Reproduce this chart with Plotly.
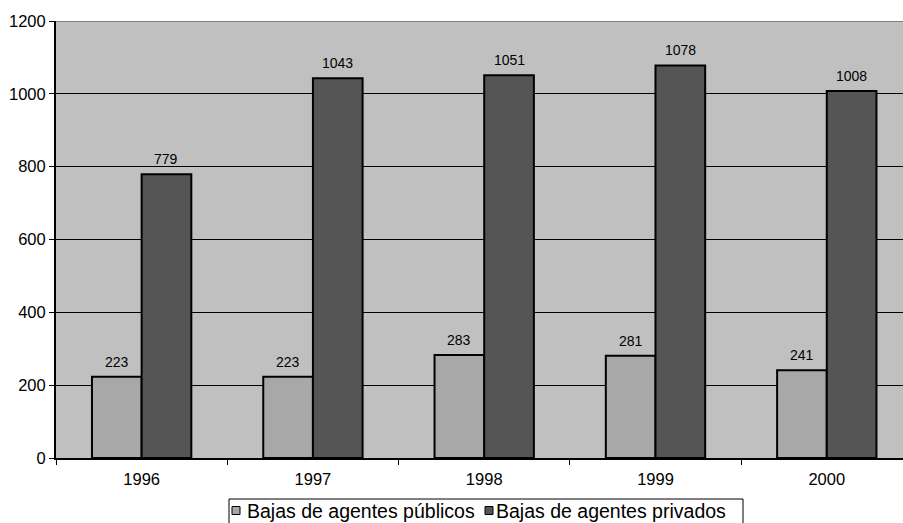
import plotly.graph_objects as go

years = ["1996", "1997", "1998", "1999", "2000"]
publicos = [223, 223, 283, 281, 241]
privados = [779, 1043, 1051, 1078, 1008]
series_names = ["Bajas de agentes públicos", "Bajas de agentes privados"]
y_ticks = [0, 200, 400, 600, 800, 1000, 1200]

W, H = 903, 523
L, R, T, B = 56, 0, 21, 65
pw, ph = W - L - R, H - T - B
X_END = 4.445
BARGAP = 0.42

def px_x(p):
    return (p - L) / pw

def px_y(p):
    return (H - B - p) / ph

FONT = "Arial, 'Liberation Sans', sans-serif"
LIGHT = "#A8A8A8"
DARK = "#555555"

fig = go.Figure()
for name, vals, col in [(series_names[0], publicos, LIGHT), (series_names[1], privados, DARK)]:
    fig.add_trace(go.Bar(
        x=years, y=vals, name=name,
        marker=dict(color=col, line=dict(color="black", width=2)),
        showlegend=False, hoverinfo="skip",
    ))

# data labels above each bar (category index positions on the x axis)
cat_px = pw / (X_END + 0.5)
bar_px = cat_px * (1 - BARGAP) / 2
for k, vals in enumerate([publicos, privados]):
    shift = (-0.5 + k) * bar_px
    for i, v in enumerate(vals):
        fig.add_annotation(x=i, y=v, xref="x", yref="y", text=str(v), showarrow=False,
                           xanchor="center", yanchor="bottom", xshift=shift, yshift=5,
                           font=dict(family=FONT, size=14, color="black"))

fig.update_layout(
    width=W, height=H,
    margin=dict(l=L, r=R, t=T, b=B, autoexpand=False),
    paper_bgcolor="white", plot_bgcolor="#C0C0C0",
    barmode="group", bargap=BARGAP, bargroupgap=0,
    font=dict(family=FONT, size=16, color="black"),
    xaxis=dict(
        type="category", range=[-0.5, X_END], automargin=False,
        showline=True, linecolor="black", linewidth=2,
        ticks="outside", tickson="boundaries", ticklen=5, tickcolor="black", tickwidth=1,
        showgrid=False, tickfont=dict(size=16.5), ticklabelstandoff=5,
    ),
    yaxis=dict(
        range=[0, 1200], tickvals=y_ticks, automargin=False,
        showline=True, linecolor="black", linewidth=2,
        ticks="outside", ticklen=5, tickcolor="black", tickwidth=1,
        showgrid=True, gridcolor="black", gridwidth=1,
        zeroline=False, tickfont=dict(size=16.5),
    ),
)

# gray top border of plot area
fig.add_shape(type="line", xref="paper", yref="y", x0=0, x1=1, y0=1200, y1=1200,
              line=dict(color="#808080", width=2))

# legend box
fig.add_shape(type="rect", xref="paper", yref="paper",
              x0=px_x(229), x1=px_x(743), y0=px_y(499), y1=px_y(526),
              line=dict(color="black", width=1), fillcolor="white", layer="above")
for sx, tx, col, name in [(232, 246, LIGHT, series_names[0]), (485, 495, DARK, series_names[1])]:
    fig.add_shape(type="rect", xref="paper", yref="paper",
                  x0=px_x(sx), x1=px_x(sx + 8), y0=px_y(506.5), y1=px_y(514.5),
                  line=dict(color="black", width=1), fillcolor=col, layer="above")
    fig.add_annotation(xref="paper", yref="paper", x=px_x(tx), y=px_y(510.5),
                       xanchor="left", yanchor="middle", text=name, showarrow=False,
                       borderpad=0, font=dict(family=FONT, size=19.5, color="black"))

fig.write_html("out.html", config={"displayModeBar": False},
               post_script="document.body.style.margin='0px';document.body.style.overflow='hidden';")
